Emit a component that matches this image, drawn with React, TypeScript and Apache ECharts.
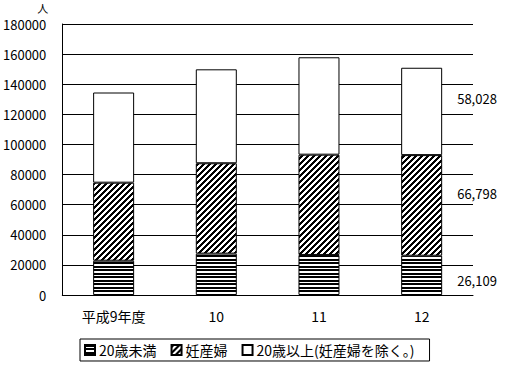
import React, { useEffect, useRef } from "react";
import * as echarts from "echarts";

const categories = ["平成9年度", "10", "11", "12"];
const under20 = [22800, 27500, 26600, 26109];
const pregnant = [51800, 60000, 66600, 66798];
const over20 = [59900, 62400, 64700, 58028];
const seriesNames = ["20歳未満", "妊産婦", "20歳以上(妊産婦を除く。)"];
const yMin = 0;
const yMax = 180000;
const yInterval = 20000;
const unitLabel = "人";

const FONT = "'Noto Sans CJK JP', 'Noto Sans', sans-serif";

function makePattern(kind: "h" | "d"): HTMLCanvasElement {
  const c = document.createElement("canvas");
  const w = kind === "h" ? 7 : 6;
  const h = kind === "h" ? 7 : 6;
  c.width = w;
  c.height = h;
  const ctx = c.getContext("2d")!;
  const img = ctx.createImageData(w, h);
  for (let y = 0; y < h; y++) {
    for (let x = 0; x < w; x++) {
      let black = false;
      if (kind === "h") {
        black = y === 0 || y === 1 || y === 3 || y === 4;
      } else {
        black = (x + y) % 6 < 3;
      }
      const i = (y * w + x) * 4;
      const v = black ? 0 : 255;
      img.data[i] = v;
      img.data[i + 1] = v;
      img.data[i + 2] = v;
      img.data[i + 3] = 255;
    }
  }
  ctx.putImageData(img, 0, 0);
  return c;
}

function lastLabel(values: number[], offsetY: number) {
  return values.map((v, i) =>
    i === values.length - 1
      ? {
          value: v,
          label: {
            show: true,
            position: "right",
            distance: 15,
            offset: [0, offsetY],
            formatter: v.toLocaleString("en-US"),
            color: "#000",
            fontFamily: FONT,
            fontSize: 13,
          },
        }
      : v
  );
}

export default function App() {
  const ref = useRef<HTMLDivElement>(null);
  useEffect(() => {
    if (!ref.current) return;
    const chart = echarts.init(ref.current, null, { renderer: "svg" });
    const hPat = makePattern("h");
    const dPat = makePattern("d");
    const common = {
      type: "bar",
      stack: "total",
      barWidth: 41,
    };
    chart.setOption({
      animation: false,
      backgroundColor: "#fff",
      textStyle: { fontFamily: FONT, color: "#000" },
      grid: { left: 62, right: 33, top: 24, bottom: 71 },
      legend: {
        left: 80,
        top: 339,
        orient: "horizontal",
        icon: "rect",
        itemWidth: 10,
        itemHeight: 10,
        itemGap: 14,
        padding: [4, 8, 4, 4],
        borderColor: "#000",
        borderWidth: 1,
        textStyle: { fontFamily: FONT, fontSize: 14, color: "#000", padding: [0, 0, 0, -1] },
        data: seriesNames,
      },
      xAxis: {
        type: "category",
        data: categories,
        axisLine: { lineStyle: { color: "#000", width: 1 } },
        axisTick: { show: false },
        axisLabel: { color: "#000", fontFamily: FONT, fontSize: 14, margin: 14 },
      },
      yAxis: {
        type: "value",
        min: yMin,
        max: yMax,
        interval: yInterval,
        name: unitLabel,
        nameLocation: "end",
        nameGap: 11,
        nameTextStyle: { color: "#000", fontFamily: FONT, fontSize: 11, align: "right", padding: [0, 14, 0, 0] },
        axisLine: { show: true, lineStyle: { color: "#000", width: 1 } },
        axisTick: { show: false },
        axisLabel: { color: "#000", fontFamily: FONT, fontSize: 13, margin: 16, formatter: (v: number) => String(v) },
        splitLine: { show: true, lineStyle: { color: "#000", width: 1 } },
      },
      series: [
        {
          ...common,
          name: seriesNames[0],
          data: lastLabel(under20, 5),
          itemStyle: { color: { image: hPat, repeat: "repeat" }, borderColor: "#000", borderWidth: 1 },
        },
        {
          ...common,
          name: seriesNames[1],
          data: lastLabel(pregnant, -12),
          itemStyle: { color: { image: dPat, repeat: "repeat" }, borderColor: "#000", borderWidth: 1 },
        },
        {
          ...common,
          name: seriesNames[2],
          data: lastLabel(over20, -13),
          itemStyle: { color: "#fff", borderColor: "#000", borderWidth: 1 },
        },
      ],
    });
    return () => chart.dispose();
  }, []);
  return <div ref={ref} style={{ width: 506, height: 366, position: "fixed", left: 0, top: 0 }} />;
}
